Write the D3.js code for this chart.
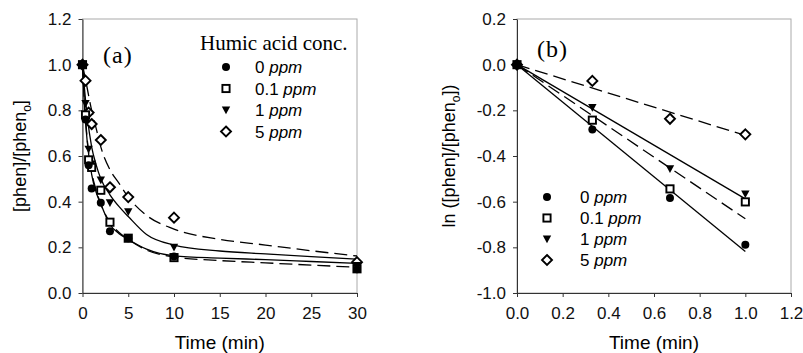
<!DOCTYPE html>
<html><head><meta charset="utf-8">
<script src="https://cdn.jsdelivr.net/npm/d3@7"></script>
<style>body{margin:0;background:#fff}svg{display:block}</style>
</head><body>
<svg id="c" width="803" height="353"></svg>
<script>
// ---------- DATA ----------
const series = ["0", "0.1", "1", "5"];
const seriesDash = [false, true, false, true];
const seriesSymbol = ["circle", "square", "triangle", "diamond"];

// panel (a) measured points
const timeA = [0, 0.33, 0.67, 1, 2, 3, 5, 10, 30];
const ratio0   = [1.0, 0.76, 0.56, 0.458, 0.395, 0.27, 0.24, 0.16, 0.104];
const ratio01  = [1.0, 0.78, 0.583, 0.55, 0.45, 0.31, 0.24, 0.155, 0.106];
const ratio1   = [1.0, 0.83, 0.63, 0.565, 0.495, 0.395, 0.356, 0.20, 0.12];
const ratio5   = [1.0, 0.93, 0.79, 0.74, 0.67, 0.463, 0.42, 0.33, 0.135];

// panel (a) fitted curves
const fitTimeA = [0, 0.25, 0.5, 1, 1.5, 2, 3, 4, 5, 7, 10, 15, 20, 25, 30];
const fit0   = [1.0, 0.80, 0.67, 0.52, 0.44, 0.39, 0.30, 0.26, 0.235, 0.192, 0.163, 0.153, 0.146, 0.138, 0.13];
const fit01  = [1.0, 0.81, 0.68, 0.53, 0.45, 0.39, 0.31, 0.265, 0.235, 0.188, 0.158, 0.142, 0.132, 0.122, 0.113];
const fit1   = [1.0, 0.88, 0.78, 0.64, 0.56, 0.50, 0.43, 0.378, 0.335, 0.256, 0.21, 0.184, 0.171, 0.159, 0.148];
const fit5   = [1.0, 0.95, 0.90, 0.80, 0.72, 0.64, 0.54, 0.48, 0.42, 0.34, 0.28, 0.235, 0.21, 0.185, 0.162];

// panel (b) measured points
const timeB = [0, 0.33, 0.67, 1.0];
const ln0   = [0, -0.284, -0.584, -0.789];
const ln01  = [0, -0.243, -0.544, -0.601];
const ln1   = [0, -0.188, -0.456, -0.566];
const ln5   = [0, -0.071, -0.237, -0.305];

// panel (b) linear fits: value at t = 0 and t = 1
const fitTimeB = [0, 1.0];
const fitLn0  = [0, -0.818];
const fitLn01 = [0, -0.675];
const fitLn1  = [0, -0.588];
const fitLn5  = [0, -0.31];

// ticks
const xTicksA = [0, 5, 10, 15, 20, 25, 30];
const xTickLabelsA = ["0", "5", "10", "15", "20", "25", "30"];
const yTicksA = [0, 0.2, 0.4, 0.6, 0.8, 1.0, 1.2];
const yTickLabelsA = ["0.0", "0.2", "0.4", "0.6", "0.8", "1.0", "1.2"];
const xTicksB = [0, 0.2, 0.4, 0.6, 0.8, 1.0, 1.2];
const xTickLabelsB = ["0.0", "0.2", "0.4", "0.6", "0.8", "1.0", "1.2"];
const yTicksB = [-1.0, -0.8, -0.6, -0.4, -0.2, 0.0, 0.2];
const yTickLabelsB = ["-1.0", "-0.8", "-0.6", "-0.4", "-0.2", "0.0", "0.2"];

const ptsA = [ratio0, ratio01, ratio1, ratio5];
const fitsA = [fit0, fit01, fit1, fit5];
const ptsB = [ln0, ln01, ln1, ln5];
const fitsB = [fitLn0, fitLn01, fitLn1, fitLn5];

// ---------- DRAW ----------
const svg = d3.select("#c");
const SANS = "'Liberation Sans', Arial, sans-serif";
const SERIF = "'Liberation Serif', 'Times New Roman', serif";

function symbolPath(g, type, x, y) {
  if (type === "circle") {
    g.append("circle").attr("cx", x).attr("cy", y).attr("r", 4).attr("fill", "#000");
  } else if (type === "square") {
    g.append("rect").attr("x", x - 3.6).attr("y", y - 3.6).attr("width", 7.2).attr("height", 7.2)
      .attr("fill", "#fff").attr("stroke", "#000").attr("stroke-width", 1.9);
  } else if (type === "triangle") {
    g.append("path").attr("d", `M${x-4.2},${y-3.5}L${x+4.2},${y-3.5}L${x},${y+4.2}Z`).attr("fill", "#000");
  } else {
    g.append("path").attr("d", `M${x},${y-5}L${x+5},${y}L${x},${y+5}L${x-5},${y}Z`)
      .attr("fill", "#fff").attr("stroke", "#000").attr("stroke-width", 1.9);
  }
}

function panel(opt) {
  const g = svg.append("g");
  const x = d3.scaleLinear().domain(opt.xDom).range([opt.x0, opt.x1]);
  const y = d3.scaleLinear().domain(opt.yDom).range([opt.y0, opt.y1]);
  g.append("rect").attr("x", opt.x0).attr("y", opt.y1).attr("width", opt.x1 - opt.x0).attr("height", opt.y0 - opt.y1)
    .attr("fill", "none").attr("stroke", "#aaa").attr("stroke-width", 1);
  const ax = g.append("g").attr("transform", `translate(0,${opt.y0})`)
    .call(d3.axisBottom(x).tickValues(opt.xTicks).tickFormat((d, i) => opt.xLabels[i]).tickSize(4).tickSizeOuter(0).tickPadding(10));
  const ay = g.append("g").attr("transform", `translate(${opt.x0},0)`)
    .call(d3.axisLeft(y).tickValues(opt.yTicks).tickFormat((d, i) => opt.yLabels[i]).tickSize(4).tickSizeOuter(0).tickPadding(7));
  [ax, ay].forEach(a => {
    a.selectAll("path,line").attr("stroke", "#333").attr("stroke-width", 1);
    a.selectAll("text").attr("font-family", SANS).attr("font-size", 17).attr("fill", "#111");
  });
  const line = d3.line().x(d => x(d[0])).y(d => y(d[1])).curve(opt.curve);
  opt.fits.forEach((f, i) => {
    g.append("path").datum(opt.fitT.map((t, j) => [t, f[j]]))
      .attr("d", line).attr("fill", "none").attr("stroke", "#000").attr("stroke-width", 1.3)
      .attr("stroke-dasharray", seriesDash[i] ? "13,6" : null);
  });
  for (let i = opt.pts.length - 1; i >= 0; i--) {
    const ps = g.append("g");
    opt.pts[i].forEach((v, j) => symbolPath(ps, seriesSymbol[i], x(opt.t[j]), y(v)));
  }
  g.append("text").attr("x", (opt.x0 + opt.x1) / 2).attr("y", 349).attr("text-anchor", "middle")
    .attr("font-family", SANS).attr("font-size", 19).text("Time (min)");
  const yt = g.append("text").attr("transform", `translate(${opt.yTitleX},${(opt.y0 + opt.y1) / 2}) rotate(-90)`)
    .attr("text-anchor", "middle").attr("font-family", SANS).attr("font-size", 18);
  opt.yTitle(yt);
  g.append("text").attr("x", opt.labX).attr("y", opt.labY).attr("font-family", SERIF).attr("font-size", 24)
    .attr("letter-spacing", 1).text(opt.label);
  const lg = g.append("g");
  series.forEach((s, i) => {
    const yy = opt.legY + i * opt.legDy;
    symbolPath(lg, seriesSymbol[i], opt.legSymX, yy);
    const t = lg.append("text").attr("x", opt.legTxtX).attr("y", yy + 6).attr("font-family", SANS).attr("font-size", 17);
    t.append("tspan").text(s + " ");
    t.append("tspan").attr("font-style", "italic").text("ppm");
  });
  return g;
}

const pa = panel({
  xDom: [0, 30], yDom: [0, 1.2], x0: 82.5, x1: 357, y0: 293, y1: 19,
  xTicks: xTicksA, xLabels: xTickLabelsA, yTicks: yTicksA, yLabels: yTickLabelsA,
  fits: fitsA, fitT: fitTimeA, pts: ptsA, t: timeA, curve: d3.curveMonotoneX,
  yTitleX: 26, yTitle: t => { t.append("tspan").text("[phen]/[phen"); t.append("tspan").attr("font-size", 12).attr("dy", 5).text("o"); t.append("tspan").attr("dy", -5).text("]"); },
  label: "(a)", labX: 103, labY: 63,
  legY: 67, legDy: 21.5, legSymX: 226, legTxtX: 255
});
pa.append("text").attr("x", 200).attr("y", 50).attr("font-family", SERIF).attr("font-size", 21).text("Humic acid conc.");

panel({
  xDom: [0, 1.2], yDom: [-1.0, 0.2], x0: 517, x1: 791, y0: 293, y1: 19,
  xTicks: xTicksB, xLabels: xTickLabelsB, yTicks: yTicksB, yLabels: yTickLabelsB,
  fits: fitsB, fitT: fitTimeB, pts: ptsB, t: timeB, curve: d3.curveLinear,
  yTitleX: 455, yTitle: t => { t.append("tspan").text("ln ([phen]/[phen"); t.append("tspan").attr("font-size", 12).attr("dy", 5).text("o"); t.append("tspan").attr("dy", -5).text("])"); },
  label: "(b)", labX: 537, labY: 57,
  legY: 197, legDy: 21, legSymX: 547, legTxtX: 580
});
</script>
</body></html>
